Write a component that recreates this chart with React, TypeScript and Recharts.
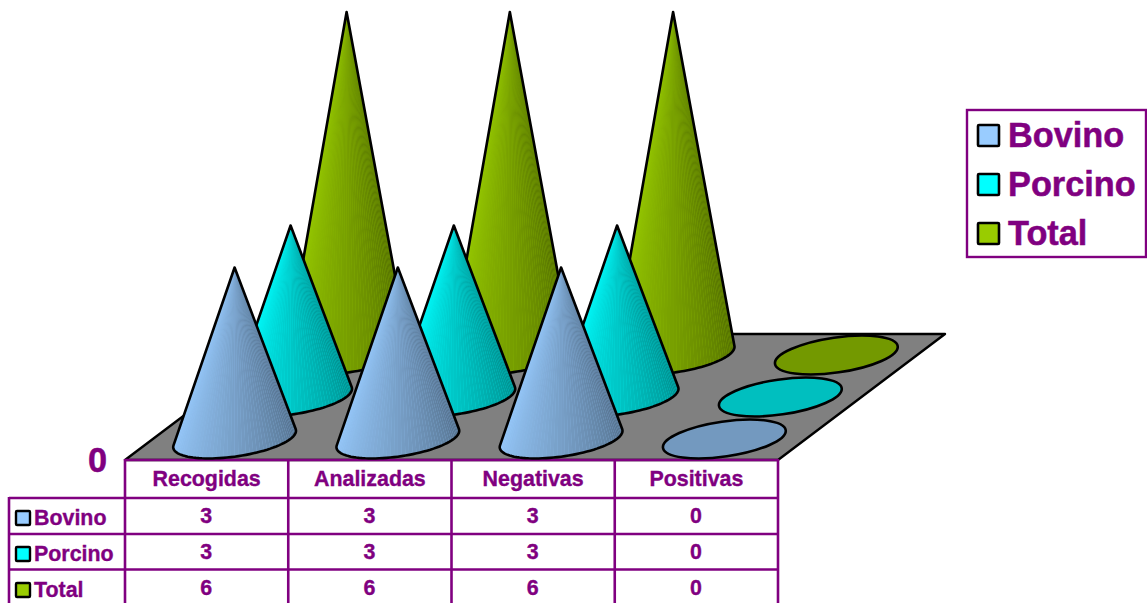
import { BarChart, Bar, XAxis, YAxis } from "recharts"

const categories = ["Recogidas", "Analizadas", "Negativas", "Positivas"]
const bovino = [3, 3, 3, 0]
const porcino = [3, 3, 3, 0]
const total = [6, 6, 6, 0]
const seriesNames = ["Bovino", "Porcino", "Total"]
const seriesValues = [bovino, porcino, total]
const seriesColors = [
  [153, 204, 255],
  [0, 255, 255],
  [153, 204, 0],
]

const data = categories.map((name, i) => ({
  name,
  Bovino: bovino[i],
  Porcino: porcino[i],
  Total: total[i],
}))

const WIDTH = 1147
const HEIGHT = 603
const PLOT_LEFT = 125
const PLOT_RIGHT = 778
const PLOT_TOP = 117
const PLOT_BOTTOM = 460
const BAND = (PLOT_RIGHT - PLOT_LEFT) / categories.length
const DEPTH_X = 56
const DEPTH_Y = -42
const BASE_W = 124
const BASE_RATIO = 17.5 / 62
const BASE_TILT = (-8.25 * Math.PI) / 180
const FACETS = 54
const PURPLE = "#800080"
const FONT = "Liberation Sans, Arial, sans-serif"

const rgb = (c: number[], k: number) =>
  `rgb(${Math.round(c[0] * k)},${Math.round(c[1] * k)},${Math.round(c[2] * k)})`

// base ellipse point in screen coords, phi measured in the ellipse's own frame
function basePoint(cx: number, cy: number, a: number, b: number, phi: number) {
  const lx = a * Math.cos(phi)
  const ly = b * Math.sin(phi)
  return [
    cx + lx * Math.cos(BASE_TILT) - ly * Math.sin(BASE_TILT),
    cy + lx * Math.sin(BASE_TILT) + ly * Math.cos(BASE_TILT),
  ]
}

function Cone(props: any) {
  const { x, y, width, height, depth, color } = props
  const a = width / 2
  const b = a * BASE_RATIO
  const cx = x + a + (depth + 0.5) * DEPTH_X - 0.4
  const cy = y + height + (depth + 0.5) * DEPTH_Y
  const ax = cx
  const ay = cy - height

  if (height < 1) {
    const deg = (BASE_TILT * 180) / Math.PI
    return (
      <ellipse
        cx={cx}
        cy={cy}
        rx={a}
        ry={b}
        transform={`rotate(${deg} ${cx} ${cy})`}
        fill={rgb(color, 0.75)}
        stroke="#000"
        strokeWidth={2.6}
      />
    )
  }

  // tangent lines from the apex to the base ellipse
  const dx = ax - cx
  const dy = ay - cy
  const u = (dx * Math.cos(BASE_TILT) + dy * Math.sin(BASE_TILT)) / a
  const v = (-dx * Math.sin(BASE_TILT) + dy * Math.cos(BASE_TILT)) / b
  const r = Math.hypot(u, v)
  const mid = Math.atan2(v, u)
  const spread = Math.acos(1 / r)
  const phiRight = mid + spread
  const phiLeft = mid - spread + 2 * Math.PI

  const pts: number[][] = []
  for (let i = 0; i <= FACETS; i++) {
    pts.push(basePoint(cx, cy, a, b, phiLeft + ((phiRight - phiLeft) * i) / FACETS))
  }
  const outline = `M${ax} ${ay} L${pts.map((p) => `${p[0]} ${p[1]}`).join(" L")} Z`

  return (
    <g>
      <path d={outline} fill={rgb(color, 0.92)} />
      {pts.slice(0, -1).map((p, i) => (
        <path
          key={i}
          d={`M${ax} ${ay} L${p[0]} ${p[1]} L${pts[i + 1][0]} ${pts[i + 1][1]} Z`}
          fill={rgb(color, 1 - 0.5 * Math.pow(i / FACETS, 1.15))}
        />
      ))}
      <path d={outline} fill="none" stroke="#000" strokeWidth={2.6} strokeLinejoin="round" />
    </g>
  )
}

function Floor() {
  const dx = DEPTH_X * seriesNames.length - 1
  const dy = DEPTH_Y * seriesNames.length
  return (
    <polygon
      points={`${PLOT_LEFT},${PLOT_BOTTOM} ${PLOT_LEFT + dx},${PLOT_BOTTOM + dy} ${PLOT_RIGHT + dx},${PLOT_BOTTOM + dy} ${PLOT_RIGHT},${PLOT_BOTTOM}`}
      fill="#808080"
      stroke="#000"
      strokeWidth={2.4}
      strokeLinejoin="round"
    />
  )
}

function DataTable() {
  const rowLines = [498, 534, 569.5]
  const baselines = [523, 559, 595]
  const columns = categories.map((_, i) => PLOT_LEFT + i * BAND)
  return (
    <g fontFamily={FONT} fontWeight="bold" fontSize={21.4} fill={PURPLE} stroke={PURPLE} strokeWidth={0.35}>
      <line x1={PLOT_LEFT} x2={PLOT_RIGHT} y1={PLOT_BOTTOM} y2={PLOT_BOTTOM} strokeWidth={2.6} />
      {rowLines.map((y) => (
        <line key={y} x1={9} x2={PLOT_RIGHT} y1={y} y2={y} strokeWidth={2.6} />
      ))}
      <line x1={9} x2={9} y1={497} y2={HEIGHT} strokeWidth={2.6} />
      {[...columns, PLOT_RIGHT].map((x) => (
        <line key={x} x1={x} x2={x} y1={459} y2={HEIGHT} strokeWidth={2.6} />
      ))}
      {seriesNames.map((name, r) => (
        <g key={name}>
          <rect
            x={16}
            y={baselines[r] - 12}
            width={14}
            height={14}
            fill={rgb(seriesColors[r], 1)}
            stroke="#000"
            strokeWidth={2.4}
            rx={1}
          />
          <text x={34} y={baselines[r] + 2}>{name}</text>
          {seriesValues[r].map((v, c) => (
            <text key={c} x={columns[c] + BAND / 2 - 0.5} y={baselines[r]} textAnchor="middle">
              {v}
            </text>
          ))}
        </g>
      ))}
    </g>
  )
}

function ChartLegend() {
  return (
    <g fontFamily={FONT} fontWeight="bold" fontSize={34.3} fill={PURPLE} stroke={PURPLE} strokeWidth={0.5}>
      <rect x={967} y={110} width={179} height={147} fill="#fff" strokeWidth={2.4} />
      {seriesNames.map((name, i) => (
        <g key={name}>
          <rect
            x={978}
            y={125 + i * 49}
            width={21}
            height={21}
            fill={rgb(seriesColors[i], 1)}
            stroke="#000"
            strokeWidth={2.6}
            rx={1}
          />
          <text x={1008} y={147 + i * 49}>{name}</text>
        </g>
      ))}
    </g>
  )
}

export default function App() {
  return (
    <div style={{ position: "absolute", left: 0, top: 0, width: WIDTH, height: HEIGHT, overflow: "hidden", background: "#fff" }}>
      <BarChart
        width={WIDTH}
        height={HEIGHT}
        data={data}
        margin={{ top: PLOT_TOP, right: WIDTH - PLOT_RIGHT, bottom: 0, left: 0 }}
        barSize={BASE_W}
        barGap={-BASE_W}
      >
        <Floor />
        <DataTable />
        <ChartLegend />
        <XAxis
          dataKey="name"
          height={HEIGHT - PLOT_BOTTOM}
          axisLine={false}
          tickLine={false}
          tickSize={0}
          tickMargin={11}
          interval={0}
          tick={{ fill: PURPLE, stroke: PURPLE, strokeWidth: 0.35, fontSize: 21.4, fontWeight: "bold", fontFamily: FONT }}
        />
        <YAxis
          width={PLOT_LEFT}
          domain={[0, 6]}
          ticks={[0]}
          axisLine={false}
          tickLine={false}
          tickSize={0}
          tickMargin={18}
          tick={{ fill: PURPLE, stroke: PURPLE, strokeWidth: 0.5, fontSize: 34.3, fontWeight: "bold", fontFamily: FONT }}
        />
        {[2, 1, 0].map((s) => (
          <Bar
            key={s}
            dataKey={seriesNames[s]}
            isAnimationActive={false}
            shape={(p: any) => <Cone {...p} depth={s} color={seriesColors[s]} />}
          />
        ))}
      </BarChart>
    </div>
  )
}
